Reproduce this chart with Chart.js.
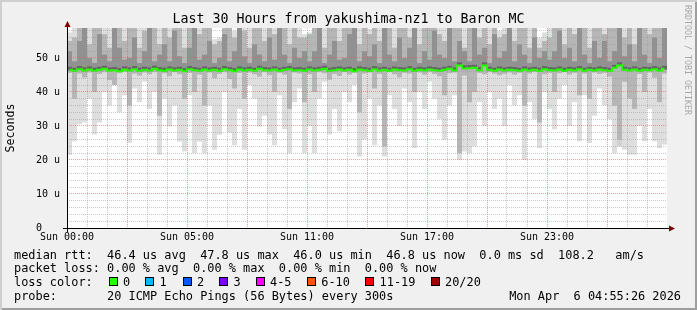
<!DOCTYPE html>
<html>
<head>
<meta charset="utf-8">
<script src="https://cdn.jsdelivr.net/npm/chart.js@4.4.1/dist/chart.umd.min.js"></script>
<style>
  html, body { margin: 0; padding: 0; background: #f0f0f0; }
  #frame {
    position: relative; width: 697px; height: 310px; overflow: hidden;
    background: #f0f0f0;
    box-shadow: inset 2px 2px 0 #cfcfcf, inset -2px -2px 0 #9e9e9e;
    font-family: "DejaVu Sans Mono", monospace; color: #000;
  }
  #chart { position: absolute; left: 0; top: 0; }
  .t { position: absolute; white-space: pre; font-size: 11.9px; line-height: 14px; }
  #title { position: absolute; left: 0; width: 697px; top: 11px; text-align: center;
    font-size: 13.3px; line-height: 16px; white-space: pre; }
  #mark { position: absolute; left: 683px; top: 5px; writing-mode: vertical-rl;
    font-size: 8.3px; line-height: 10px; color: #a8a8a8; white-space: pre; }
  .box { position: absolute; width: 9px; height: 9px; box-sizing: border-box; border: 1px solid #000; }
</style>
</head>
<body>
<div id="frame">
  <canvas id="chart" width="697" height="310"></canvas>
  <div id="title">Last 30 Hours from yakushima-nz1 to Baron MC</div>
  <div id="mark">RRDTOOL / TOBI OETIKER</div>
  <div id="legend"></div>
</div>
<script>
"use strict";

// ---------- data (one column = 15 min, 120 columns = 30 h) ----------
const xTickLabels = ["Sun 00:00", "Sun 05:00", "Sun 11:00", "Sun 17:00", "Sun 23:00"];
const yTickLabels = ["0   ", "10 u", "20 u", "30 u", "40 u", "50 u"];

// lowest ping of the column (bottom of light smoke), in us
const lowMin = [
  21.5, 25.5, 30.5, 31, 38, 27.5, 31, 40, 36, 42, 34, 39, 25, 41, 37, 43, 35, 40, 21.5, 38,
  29.8, 36, 25.4, 22.5, 39, 22, 25.4, 22, 36, 23, 27.4, 40, 28, 24.3, 35, 23, 42, 38, 29.8, 33,
  27.5, 24.3, 39, 29, 22, 37, 41, 22, 30, 22, 38, 43, 27.5, 35, 28.5, 40, 37, 42, 21, 26,
  38, 24.3, 36, 21, 39, 35, 30, 41, 37, 23.5, 40, 35, 43, 38, 32, 26, 36, 39, 20, 22.5,
  22, 24, 37, 30, 40, 35, 38, 30, 42, 36, 39, 20, 37, 32, 23.5, 40, 35, 29, 38, 42,
  30, 37, 25.5, 39, 25, 33, 41, 36, 32, 22, 26, 23, 21.5, 21.5, 30, 25.5, 35, 25.5, 23.5, 24.5
];
// lower edge of the denser smoke
const lowMid = [
  45.6, 38, 45.4, 44.2, 45.7, 40, 45.3, 45.8, 43.5, 42, 45.5, 45.9, 36, 45.4, 44.8, 45.7, 45.2, 45.8, 33, 45.5,
  44.6, 45.8, 45.2, 38, 45.6, 40, 45.1, 36, 45.7, 44, 45.3, 45.8, 43.8, 41, 45.6, 38, 45.7, 45.2, 44.5, 45.8,
  44.9, 40, 45.6, 45.1, 35, 45.7, 45.4, 37, 45.2, 40, 45.8, 45.5, 43.6, 45.3, 44.7, 45.8, 45.1, 45.6, 34, 45.4,
  45.7, 41, 45.3, 24, 45.8, 45.2, 44.3, 45.6, 45.4, 40, 45.7, 45.1, 45.8, 45.3, 44.6, 39, 45.5, 45.7, 22, 44.8,
  37, 40, 45.6, 45.2, 45.8, 45.4, 44.9, 45.3, 45.7, 45.1, 45.6, 36, 45.4, 45.8, 31, 45.2, 45.6, 40, 45.5, 45.8,
  45.1, 45.6, 39, 45.4, 38, 45.7, 45.3, 45.6, 44.5, 36, 24, 43, 38, 35, 45.3, 40, 45.7, 44.2, 37, 45.4
];
// median rtt
const median = [
  46.5, 46.2, 46.7, 46.3, 46.6, 46.2, 46.5, 46.8, 46.3, 46.4, 46.1, 46.6, 46.3, 46.7, 46.2, 46.5, 46.3, 46.8, 46.4, 46.2,
  46.6, 46.3, 46.5, 46.1, 46.7, 46.4, 46.2, 46.6, 46.3, 46.5, 46.2, 46.7, 46.4, 46.1, 46.6, 46.3, 46.5, 46.2, 46.8, 46.4,
  46.3, 46.6, 46.2, 46.5, 46.7, 46.3, 46.4, 46.2, 46.6, 46.3, 46.5, 46.8, 46.2, 46.4, 46.6, 46.3, 46.5, 46.1, 46.6, 46.4,
  46.2, 46.7, 46.3, 46.5, 46.2, 46.6, 46.4, 46.3, 46.7, 46.2, 46.5, 46.3, 46.6, 46.4, 46.2, 46.5, 46.8, 46.3, 47.8, 46.9,
  47.0, 47.1, 46.4, 47.8, 46.5, 46.2, 46.6, 46.3, 46.5, 46.4, 46.2, 46.6, 46.3, 46.5, 46.2, 46.7, 46.4, 46.3, 46.6, 46.2,
  46.5, 46.3, 46.7, 46.2, 46.5, 46.3, 46.6, 46.4, 46.2, 47.1, 47.8, 46.5, 46.3, 46.6, 46.2, 46.5, 46.4, 46.7, 46.3, 46.8
];
// upper edge of the dark core above the median
const upCore = [
  52, 49, 55, 60, 50, 48.5, 57, 51, 49, 60, 53, 49.5, 50, 56, 48.5, 52, 60, 49, 51, 54,
  49, 58, 50.5, 48.5, 53, 60, 49.5, 51, 55, 48.5, 50, 57, 49, 52, 60, 50.5, 48.5, 54, 51, 49,
  56, 49.5, 60, 51, 48.5, 53, 50, 52, 49, 52, 60, 48.5, 51, 55, 49.5, 50, 57, 60, 49, 52,
  50.5, 54, 48.5, 60, 51, 49, 56, 50, 53, 60, 48.5, 52, 49.5, 58, 51, 50, 60, 49, 55, 52,
  49, 60, 51, 53, 48.5, 57, 50, 52, 60, 49, 54, 51, 48.5, 56, 50, 52, 49.5, 52, 58, 50,
  53, 49, 60, 51, 48.5, 55, 50, 57, 49, 52, 60, 50.5, 54, 49, 60, 51, 48.5, 56, 50, 60
];
// upper edge of the denser smoke
const upMid = [
  55, 56, 60, 60, 54, 60, 60, 57, 53, 60, 60, 55, 60, 60, 53, 58, 60, 60, 54, 60,
  56, 60, 60, 53, 60, 60, 57, 60, 60, 54, 55, 60, 60, 56, 60, 58, 53, 60, 60, 55,
  60, 57, 60, 60, 54, 60, 56, 56, 57, 60, 60, 53, 60, 60, 55, 60, 60, 60, 54, 60,
  57, 60, 55, 60, 60, 53, 60, 60, 56, 60, 54, 60, 60, 60, 57, 55, 60, 60, 60, 53,
  60, 60, 56, 60, 54, 60, 56, 57, 60, 55, 60, 60, 53, 60, 53, 55, 56, 60, 60, 54,
  60, 57, 60, 60, 53, 60, 60, 55, 60, 60, 60, 56, 60, 54, 60, 60, 57, 60, 60, 60
];
// highest ping of the column (top of light smoke)
const upMax = [
  57.5, 60, 60, 60, 60, 60, 60, 60, 60, 60, 60, 60, 60, 60, 60, 60, 60, 60, 60, 60,
  60, 60, 60, 60, 60, 60, 60, 60, 60, 55.5, 56, 60, 60, 58, 60, 60, 60, 60, 60, 60,
  60, 60, 60, 60, 60, 60, 60, 57, 57.5, 60, 60, 60, 60, 60, 60, 60, 60, 60, 60, 60,
  58.5, 60, 60, 60, 60, 60, 60, 60, 60, 60, 60, 60, 60, 60, 60, 60, 60, 60, 60, 60,
  60, 60, 60, 60, 60, 60, 58, 60, 60, 60, 60, 60, 60, 60, 56, 57.5, 60, 60, 60, 60,
  60, 60, 60, 60, 60, 60, 60, 60, 60, 60, 60, 60, 60, 60, 60, 60, 60, 60, 60, 60
];

const lossLabels = ["0", "1", "2", "3", "4-5", "6-10", "11-19", "20/20"];
const lossColors = ["#26ff00", "#00b8ff", "#0059ff", "#7e00ff", "#ff00ff", "#ff5500", "#ff0000", "#a10000"];

const FONT = "DejaVu Sans Mono";

// ---------- legend text below the graph ----------
(function buildLegend() {
  const host = document.getElementById("legend");
  const lines = [
    "median rtt:  46.4 us avg  47.8 us max  46.0 us min  46.8 us now  0.0 ms sd  108.2   am/s",
    "packet loss: 0.00 % avg  0.00 % max  0.00 % min  0.00 % now",
    "loss color:",
    "probe:       20 ICMP Echo Pings (56 Bytes) every 300s",
  ];
  lines.forEach((txt, i) => {
    const d = document.createElement("div");
    d.className = "t";
    d.style.left = "14px";
    d.style.top = (247.6 + i * 13.7) + "px";
    d.textContent = txt;
    host.appendChild(d);
  });

  // loss colour boxes
  const boxX = [108.7, 145.3, 182.7, 219.3, 255.7, 307, 365.3, 430.7];
  lossLabels.forEach((lbl, i) => {
    const b = document.createElement("div");
    b.className = "box";
    b.style.left = boxX[i] + "px";
    b.style.top = "277px";
    b.style.background = lossColors[i];
    host.appendChild(b);
    const t = document.createElement("div");
    t.className = "t";
    t.style.left = (boxX[i] + 14.3) + "px";
    t.style.top = (247.6 + 2 * 13.7) + "px";
    t.textContent = lbl;
    host.appendChild(t);
  });

  const date = document.createElement("div");
  date.className = "t";
  date.style.right = "16px";
  date.style.top = (247.6 + 3 * 13.7) + "px";
  date.textContent = "Mon Apr  6 04:55:26 2026";
  host.appendChild(date);
})();

// ---------- chart ----------
const columnHours = lowMin.map((_, i) => i * 0.25 + 0.125);

function band(lo, hi) {
  return columnHours.map((x, i) => ({ x: x, y: [lo[i], hi[i]] }));
}

function smoke(data, color, order) {
  return {
    type: "bar",
    data: data,
    backgroundColor: color,
    borderWidth: 0,
    barThickness: 5,
    grouped: false,
    inflateAmount: 0,
    order: order,
  };
}

// white plot canvas
const canvasBg = {
  id: "canvasBg",
  beforeDraw(chart) {
    const { ctx, chartArea: a } = chart;
    ctx.save();
    ctx.fillStyle = "#ffffff";
    ctx.fillRect(a.left, a.top, a.right - a.left, a.bottom - a.top);
    ctx.restore();
  },
};

// rrdtool style axes with arrows
const axisArrows = {
  id: "axisArrows",
  afterDraw(chart) {
    const { ctx, chartArea: a } = chart;
    const x0 = a.left + 0.5, y0 = a.bottom + 0.5;
    ctx.save();
    ctx.strokeStyle = "#000";
    ctx.lineWidth = 1;
    ctx.beginPath();
    ctx.moveTo(a.left - 4, y0);
    ctx.lineTo(a.right + 3, y0);
    ctx.moveTo(x0, a.bottom + 4);
    ctx.lineTo(x0, a.top - 3);
    ctx.stroke();
    ctx.fillStyle = "#800000";
    ctx.beginPath();
    ctx.moveTo(a.right + 8, y0);
    ctx.lineTo(a.right + 2, y0 - 3);
    ctx.lineTo(a.right + 2, y0 + 3);
    ctx.closePath();
    ctx.fill();
    ctx.beginPath();
    ctx.moveTo(x0, a.top - 7);
    ctx.lineTo(x0 - 3, a.top - 1);
    ctx.lineTo(x0 + 3, a.top - 1);
    ctx.closePath();
    ctx.fill();
    ctx.restore();
  },
};

const MAJOR = "rgba(225,90,90,0.55)";
const MINOR = "rgba(150,150,150,0.5)";

new Chart(document.getElementById("chart"), {
  type: "bar",
  data: {
    datasets: [
      {
        type: "line",
        data: columnHours.map((x, i) => ({ x: x, y: median[i] })),
        borderColor: lossColors[0],
        borderWidth: 2,
        pointRadius: 0,
        stepped: "middle",
        order: 0,
      },
      smoke(columnHours.map((x, i) => ({ x: x, y: [median[i] - 0.2, median[i] + 0.9] })), "rgba(0,0,0,0.3)", 1),
      smoke(band(median.map((m) => m - 0.2), upCore), "rgba(0,0,0,0.2)", 2),
      smoke(band(lowMid, upMid), "rgba(0,0,0,0.18)", 3),
      smoke(band(lowMin, upMax), "rgba(0,0,0,0.13)", 4),
    ],
  },
  options: {
    responsive: false,
    animation: false,
    devicePixelRatio: 1,
    layout: { autoPadding: false, padding: { left: 0, top: 28, right: 30, bottom: 0 } },
    plugins: { legend: { display: false }, tooltip: { enabled: false }, title: { display: false } },
    scales: {
      x: {
        type: "linear",
        min: 0,
        max: 30,
        offset: false,
        grid: {
          offset: false,
          drawTicks: false,
          z: 1,
          color: (c) => {
            const v = c.tick.value;
            if (v === 0 || v === 30) return "rgba(0,0,0,0)";
            return v % 3 === 0 ? MAJOR : MINOR;
          },
        },
        border: { display: false, dash: [1, 1] },
        ticks: {
          stepSize: 1,
          autoSkip: false,
          maxRotation: 0,
          includeBounds: false,
          padding: 3,
          color: "#000",
          font: { family: FONT, size: 10 },
          callback: (v) => (v % 6 === 0 && v < 30 ? xTickLabels[v / 6] : ""),
        },
        afterFit: (s) => { s.height = 82; },
      },
      y: {
        min: 0,
        max: 58.8,
        grid: {
          drawTicks: false,
          z: 1,
          color: (c) => {
            const v = c.tick.value;
            if (v === 0) return "rgba(0,0,0,0)";
            return v % 10 === 0 ? MAJOR : MINOR;
          },
        },
        border: { display: false, dash: [1, 1] },
        ticks: {
          stepSize: 2,
          autoSkip: false,
          includeBounds: false,
          padding: 7,
          color: "#000",
          font: { family: FONT, size: 10 },
          callback: (v) => (v % 10 === 0 ? yTickLabels[v / 10] : ""),
        },
        title: {
          display: true,
          text: "Seconds",
          color: "#000",
          font: { family: FONT, size: 11.6 },
          padding: { top: 4, bottom: 0 },
        },
        afterFit: (s) => { s.width = 67; },
      },
    },
  },
  plugins: [canvasBg, axisArrows],
});
</script>
</body>
</html>
